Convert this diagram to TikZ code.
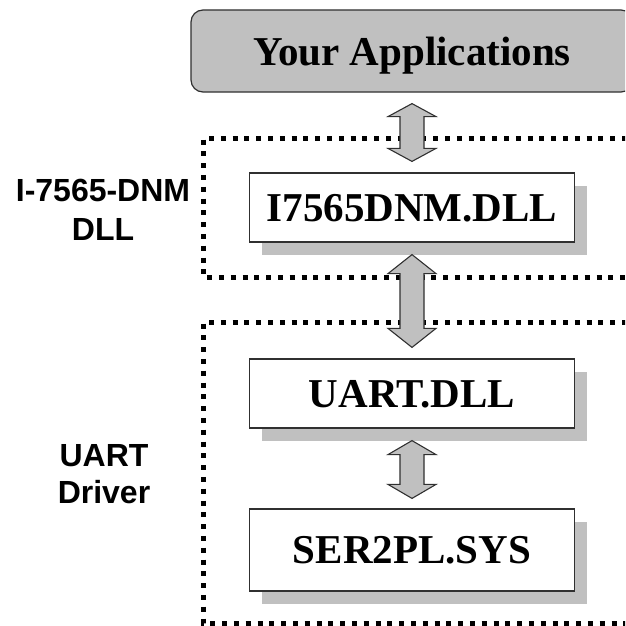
\documentclass[tikz,border=0pt]{standalone}
\usepackage{fontspec}
\setmainfont{Liberation Serif}
\setsansfont{Liberation Sans}
\usepackage{tikz}
\usetikzlibrary{calc,shadows}
\definecolor{layergray}{HTML}{C0C0C0}
\definecolor{shadegray}{HTML}{C0C0C0}
\definecolor{edgedark}{HTML}{303030}
\tikzset{
  layerbox/.style={draw=edgedark, line width=1.2pt, fill=white, minimum width=325pt,
    inner sep=0pt, text depth=0pt, font=\fontsize{41}{41}\selectfont\bfseries,
    drop shadow={shadow xshift=12.5pt, shadow yshift=-12.5pt, fill=shadegray, opacity=1}},
  appbox/.style={draw=edgedark, line width=1.2pt, fill=layergray, rounded corners=12pt,
    minimum width=442pt, minimum height=82pt, inner sep=0pt, text depth=0pt,
    font=\fontsize{41}{41}\selectfont\bfseries},
  frameline/.style={line width=5pt, dash pattern=on 5pt off 6.8pt},
  sidelabel/.style={align=center, inner sep=0pt},
  fatarrow/.style={draw=edgedark, line width=1.1pt, fill=layergray, line join=miter}
}
% thick two-headed arrow: top end, bottom end, head length
\newcommand{\fatupdown}[3]{%
  \draw[fatarrow] let \p1=(#1), \p2=(#2) in
    (\x1,\y1) -- ++(24pt,-#3) -- ++(-12pt,0pt) -- (\x1+12pt,\y2+#3) -- ++(12pt,0pt)
    -- (\x2,\y2) -- ++(-24pt,#3) -- ++(12pt,0pt) -- (\x1-12pt,\y1-#3) -- ++(-12pt,0pt) -- cycle;}
\begin{document}
\begin{tikzpicture}[x=1pt, y=-1pt]
    \clip (0,0) rectangle (625,626);

    % Dotted group frames (open to the right)
    \draw[frameline] (209,138.5) -- (640,138.5);
    \draw[frameline] (203,139.5) -- (203,277) -- (640,277);
    \draw[frameline] (209,322.5) -- (640,322.5);
    \draw[frameline] (203,323.5) -- (203,623) -- (640,623);

    % Group labels
    \node[sidelabel, font=\sffamily\bfseries\fontsize{32}{39}\selectfont] (dnmlabel) at (103,210) {I-7565-DNM\\DLL};
    \node[sidelabel, font=\sffamily\bfseries\fontsize{32}{36.5}\selectfont] (uartlabel) at (104,474) {UART\\Driver};

    % Layers
    \node[appbox] (app) at (412,51) {Your Applications};
    \node[layerbox, minimum height=69pt] (dll) at (412,207.5) {I7565DNM.DLL};
    \node[layerbox, minimum height=69pt] (uart) at (412,393.5) {UART.DLL};
    \node[layerbox, minimum height=82pt] (ser) at (412,550) {SER2PL.SYS};

    % Arrow ends
    \coordinate (a1top) at ($(app.south)+(0,11)$);
    \coordinate (a1bot) at ($(dll.north)+(0,-11)$);
    \coordinate (a2top) at ($(dll.south)+(0,12)$);
    \coordinate (a2bot) at ($(uart.north)+(0,-11)$);
    \coordinate (a3top) at ($(uart.south)+(0,12)$);
    \coordinate (a3bot) at ($(ser.north)+(0,-10)$);

    % Arrows between layers
    \fatupdown{a1top}{a1bot}{13pt}
    \fatupdown{a2top}{a2bot}{19pt}
    \fatupdown{a3top}{a3bot}{14pt}
\end{tikzpicture}
\end{document}
